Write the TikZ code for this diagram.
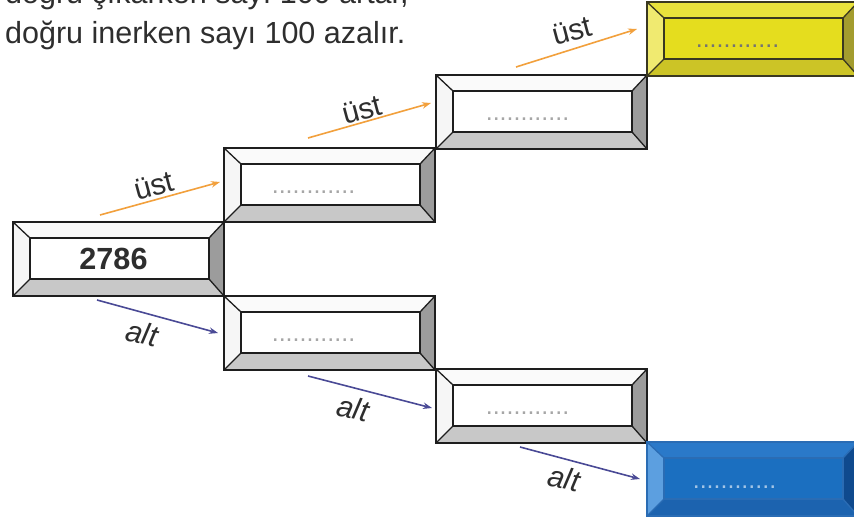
\documentclass[tikz,border=0pt]{standalone}
\usepackage{fontspec}
\setmainfont{Liberation Sans}
\usetikzlibrary{arrows.meta,calc}
\definecolor{txt}{HTML}{2E2E2E}
\definecolor{gtop}{HTML}{FAFAFA}
\definecolor{gleft}{HTML}{F6F6F6}
\definecolor{gbot}{HTML}{C8C8C8}
\definecolor{gright}{HTML}{9C9C9C}
\definecolor{gin}{HTML}{FFFFFF}
\definecolor{gline}{HTML}{1E1E1E}
\definecolor{ytop}{HTML}{E9E23C}
\definecolor{yleft}{HTML}{F0EA70}
\definecolor{ybot}{HTML}{CCC426}
\definecolor{yright}{HTML}{A39C2E}
\definecolor{yin}{HTML}{E5DD1E}
\definecolor{yline}{HTML}{3A3820}
\definecolor{btop}{HTML}{2A79C9}
\definecolor{bleft}{HTML}{5C9FE0}
\definecolor{bbot}{HTML}{1C63AF}
\definecolor{bright}{HTML}{0F4A8E}
\definecolor{bin}{HTML}{1B6FC0}
\definecolor{bline}{HTML}{2A6CB4}
\definecolor{uarr}{HTML}{F2A03C}
\definecolor{aarr}{HTML}{4A4A96}
\tikzset{
  headtxt/.style={anchor=base west, inner sep=0pt, text=txt, font=\fontsize{30.5}{36}\selectfont},
  numtxt/.style={inner sep=0pt, text=txt, font=\fontsize{30.6}{36}\selectfont\bfseries},
  dotstxt/.style={anchor=base, inner sep=0pt, font=\fontsize{25}{30}\selectfont},
  lab/.style={inner sep=0pt, text=txt, font=\fontsize{30}{36}\selectfont},
  uarrow/.style={draw=uarr, line width=1.6pt, -{Stealth[length=9pt,width=6.5pt]}},
  aarrow/.style={draw=aarr, line width=1.6pt, -{Stealth[length=9pt,width=6.5pt]}},
}
\newcommand\bevbox[9]{%
  \path (#2,#3) coordinate (#1-nw) ++(211,0) coordinate (#1-ne) ++(0,74) coordinate (#1-se) ++(-211,0) coordinate (#1-sw);
  \path (#1-nw) ++(17,16) coordinate (#1-inw);
  \path (#1-ne) ++(-15,16) coordinate (#1-ine);
  \path (#1-se) ++(-15,-17) coordinate (#1-ise);
  \path (#1-sw) ++(17,-17) coordinate (#1-isw);
  \fill[#4] (#1-nw) -- (#1-ne) -- (#1-ine) -- (#1-inw) -- cycle;
  \fill[#5] (#1-sw) -- (#1-nw) -- (#1-inw) -- (#1-isw) -- cycle;
  \fill[#6] (#1-se) -- (#1-sw) -- (#1-isw) -- (#1-ise) -- cycle;
  \fill[#7] (#1-ne) -- (#1-se) -- (#1-ise) -- (#1-ine) -- cycle;
  \fill[#8] (#1-inw) rectangle (#1-ise);
  \draw[#9, line width=1.3pt] (#1-nw) -- (#1-inw) (#1-ne) -- (#1-ine) (#1-se) -- (#1-ise) (#1-sw) -- (#1-isw);
  \draw[#9, line width=1.4pt] (#1-inw) rectangle (#1-ise);
  \draw[#9, line width=1.7pt] (#1-nw) rectangle (#1-se);
  \coordinate (#1-c) at ($(#1-inw)!0.5!(#1-ise)$);
}
\begin{document}
\begin{tikzpicture}[x=1pt,y=-1pt]
\useasboundingbox (0,0) rectangle (854,522);
\clip (0,0) rectangle (854,522);
\fill[white] (0,0) rectangle (854,522);
% heading
\node[headtxt] (h1) at (5,4) {doğru çıkarken sayı 100 artar,};
\node[headtxt] (h2) at (5,43) {doğru inerken sayı 100 azalır.};
% boxes
\bevbox{b1}{13}{222}{gtop}{gleft}{gbot}{gright}{gin}{gline}
\bevbox{b2}{224}{148}{gtop}{gleft}{gbot}{gright}{gin}{gline}
\bevbox{b3}{436}{75}{gtop}{gleft}{gbot}{gright}{gin}{gline}
\bevbox{b4}{647}{2}{ytop}{yleft}{ybot}{yright}{yin}{yline}
\bevbox{b5}{224}{296}{gtop}{gleft}{gbot}{gright}{gin}{gline}
\bevbox{b6}{436}{369}{gtop}{gleft}{gbot}{gright}{gin}{gline}
\bevbox{b7}{647}{442}{btop}{bleft}{bbot}{bright}{bin}{bline}
% texts in boxes
\node[numtxt] (t1) at ($(b1-c)+(-6,0)$) {2786};
\node[dotstxt, text=black!35] (t2) at ($(b2-c)+(-17,9)$) {............};
\node[dotstxt, text=black!35] (t3) at ($(b3-c)+(-15,9)$) {............};
\node[dotstxt, text=black!55] (t4) at ($(b4-c)+(-16,9)$) {............};
\node[dotstxt, text=black!35] (t5) at ($(b5-c)+(-17,9)$) {............};
\node[dotstxt, text=black!35] (t6) at ($(b6-c)+(-15,9)$) {............};
\node[dotstxt, text=white!60!bin] (t7) at ($(b7-c)+(-19,10)$) {............};
% arrows
\coordinate (u1s) at (100,215); \coordinate (u1e) at (220,182);
\coordinate (u2s) at (308,138); \coordinate (u2e) at (431,103);
\coordinate (u3s) at (516,67);  \coordinate (u3e) at (637,29);
\coordinate (a1s) at (97,300);  \coordinate (a1e) at (218,333);
\coordinate (a2s) at (308,376); \coordinate (a2e) at (432,408);
\coordinate (a3s) at (520,447); \coordinate (a3e) at (640,479);
\draw[uarrow] (u1s) -- (u1e);
\draw[uarrow] (u2s) -- (u2e);
\draw[uarrow] (u3s) -- (u3e);
\draw[aarrow] (a1s) -- (a1e);
\draw[aarrow] (a2s) -- (a2e);
\draw[aarrow] (a3s) -- (a3e);
\node[lab, rotate=15] (l1) at (154,186) {üst};
\node[lab, rotate=15] (l2) at (362,110) {üst};
\node[lab, rotate=15] (l3) at (572,31) {üst};
\node[lab, rotate=-12, font=\fontsize{30}{36}\selectfont\itshape] (l4) at (142,333) {alt};
\node[lab, rotate=-12, font=\fontsize{30}{36}\selectfont\itshape] (l5) at (353,408) {alt};
\node[lab, rotate=-12, font=\fontsize{30}{36}\selectfont\itshape] (l6) at (564,478) {alt};
\end{tikzpicture}
\end{document}
